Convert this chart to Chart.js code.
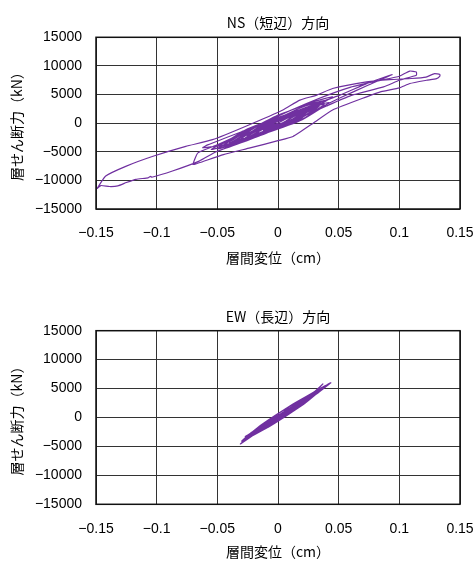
<!DOCTYPE html>
<html><head><meta charset="utf-8">
<script src="https://cdn.jsdelivr.net/npm/chart.js@4/dist/chart.umd.min.js"></script>
<style>
html,body{margin:0;padding:0;background:#fff;width:476px;height:561px;overflow:hidden}
canvas{display:block;position:absolute;left:0}
</style></head>
<body>
<canvas id="ns" width="476" height="280" style="top:0"></canvas>
<canvas id="ew" width="476" height="281" style="top:280px"></canvas>
<script>
const xTickValues = [-0.15, -0.1, -0.05, 0, 0.05, 0.1, 0.15];
const yTickValues = [-15000, -10000, -5000, 0, 5000, 10000, 15000];
const titleNS = 'NS（短辺）方向';
const titleEW = 'EW（長辺）方向';
const xTitle = '層間変位（cm）';
const yTitle = '層せん断力（kN）';

const nsDisp = [0, 0.008, 0.015, 0.006, -0.006, -0.012, -0.002, 0.010, 0.022, 0.010,
  -0.008, -0.020, -0.008, 0.012, 0.030, 0.015, -0.010, -0.028, -0.012, 0.015,
  0.036, 0.018, -0.015, -0.038, -0.020, 0.010, 0.051, 0.073, 0.094, 0.075,
  0.050, 0.025, 0.000, -0.025, -0.045, -0.030, -0.005, 0.020, 0.040, 0.022,
  -0.005, -0.030, -0.055, -0.040, -0.015, 0.010, 0.030, 0.045, 0.030, 0.005,
  -0.020, -0.050, -0.030, 0.000, 0.030, 0.060, 0.085, 0.100, 0.1086, 0.114,
  0.114, 0.100, 0.087, 0.060, 0.040, 0.018, 0.000, -0.025, -0.051, -0.065,
  -0.087, -0.104, -0.105, -0.107, -0.117, -0.125, -0.132, -0.139, -0.146, -0.149,
  -0.142, -0.125, -0.103, -0.076, -0.054, -0.025, 0.004, 0.018, 0.032, 0.045,
  0.073, 0.092, 0.110, 0.122, 0.129, 0.1334, 0.1334, 0.1307, 0.1224, 0.1087,
  0.100, 0.085, 0.073, 0.045, 0.029, 0.0124, 0.000, -0.023, -0.045, -0.065,
  -0.070, -0.066, -0.050, -0.025, 0.000, 0.025, 0.040, 0.025, 0.000, -0.020,
  -0.042, -0.025, 0.000, 0.020, 0.035, 0.018, -0.010, -0.030, -0.012, 0.010,
  0.028, 0.012, -0.008, -0.022, -0.008, 0.010, 0.020, 0.005, -0.010, 0.000,
  0.015, 0.032, 0.015, -0.010, -0.035, -0.015, 0.010, 0.038, 0.020, -0.010,
  -0.048, -0.025, 0.005, 0.033, 0.012, -0.015, -0.040, -0.018, 0.012, 0.042,
  0.020, -0.012, -0.040, -0.062, -0.058, -0.030, 0.000, 0.030, 0.010, -0.020,
  -0.036, -0.015, 0.015, 0.034, 0.012, -0.018, -0.045, -0.022, 0.008, 0.028,
  0.008, -0.015, -0.030, -0.010, 0.012, 0.025, 0.008, -0.012, -0.025, -0.008,
  0.010, 0.020, 0.005, -0.010, -0.018, -0.005, 0.012, 0.000, -0.012, 0.000];
const nsForce = [0, 900, 1500, 200, -800, -1300, 100, 1200, 2100, 500,
  -1100, -2000, -300, 1500, 3000, 900, -1500, -2700, -700, 1800,
  3500, 1200, -2000, -3600, -1300, 1700, 4900, 6900, 8480, 6700,
  4300, 1700, -800, -3000, -4200, -2300, 300, 2800, 4000, 1800,
  -1300, -3300, -4600, -2900, -200, 2200, 3800, 4600, 2700, -300,
  -2600, -4500, -2000, 1200, 4000, 6300, 7500, 8200, 9100, 8930,
  8360, 7490, 6330, 4800, 3000, 900, -900, -3000, -5000, -6640,
  -8370, -9450, -9300, -9550, -9810, -10380, -10970, -11070, -10900, -11400,
  -9240, -7500, -5780, -4050, -2890, -400, 2300, 4030, 4900, 6050,
  7200, 7610, 7800, 8050, 8650, 8500, 8200, 7785, 7490, 6920,
  6160, 5500, 4600, 2300, 0, -2320, -3060, -4330, -5500, -6920,
  -7210, -5190, -3800, -1300, 1400, 3300, 4000, 2200, -700, -2500,
  -3900, -2000, 700, 2400, 3400, 1300, -1800, -3200, -1000, 1400,
  2800, 700, -1300, -2300, -500, 1200, 2000, 200, -1200, 0,
  2000, 2900, 300, -1700, -3000, -300, 1700, 3300, 700, -1700,
  -4000, -1000, 1300, 3000, 0, -2100, -3400, -500, 1800, 3600,
  600, -1900, -3700, -4300, -3800, -1500, 900, 2900, -100, -2400,
  -3100, -300, 2000, 3000, 0, -2300, -3800, -800, 1500, 2600,
  -300, -2100, -2700, 100, 1800, 2300, -200, -1800, -2200, 200,
  1500, 1900, -300, -1500, -1700, 300, 1300, -600, -1200, 0];

const ewDisp = [0, 0.005, 0.010, 0.003, -0.004, -0.008, 0.000, 0.008, 0.015, 0.006,
  -0.006, -0.014, -0.004, 0.008, 0.020, 0.010, -0.005, -0.018, -0.006, 0.010,
  0.025, 0.012, -0.006, -0.022, -0.008, 0.012, 0.030, 0.015, -0.008, -0.027,
  -0.012, 0.010, 0.028, 0.037, 0.024, 0.005, -0.015, -0.031, -0.018, 0.000,
  0.020, 0.035, 0.0435, 0.030, 0.010, -0.010, -0.025, -0.012, 0.008, 0.026,
  0.014, -0.004, -0.020, -0.008, 0.008, 0.022, 0.010, -0.006, -0.016, -0.004,
  0.010, 0.018, 0.006, -0.008, 0.000,
  0.010, 0.030, 0.015, -0.005, -0.024, -0.010, 0.010, 0.034, 0.018, -0.005,
  -0.028, -0.012, 0.012, 0.038, 0.020, -0.004, -0.026, -0.010, 0.012, 0.032,
  0.016, -0.006, -0.030, -0.014, 0.010, 0.036, 0.018, -0.004, -0.022, -0.008,
  0.014, 0.040, 0.022, -0.002, -0.025, -0.010, 0.010, 0.028, 0.012, -0.008,
  -0.020, -0.006, 0.012, 0.024, 0.010, -0.006, -0.016, -0.004, 0.010, 0.018,
  0.006, -0.010, 0.000];
const ewForce = [0, 700, 1400, 200, -700, -1200, 100, 1200, 2100, 600,
  -1000, -2000, -400, 1300, 2800, 1100, -900, -2600, -700, 1600,
  3500, 1300, -1200, -3100, -900, 1900, 4300, 1600, -1500, -3320,
  -1300, 1700, 4100, 5800, 3100, 300, -2300, -4580, -2400, 200,
  3000, 5000, 6000, 3800, 1000, -1600, -3600, -1500, 1400, 3800,
  1700, -900, -2900, -1000, 1300, 3200, 1200, -1100, -2300, -300,
  1500, 2600, 600, -1300, 0,
  2000, 4100, 1500, -1300, -3300, -800, 2000, 4700, 1900, -1300,
  -3900, -1100, 2300, 5300, 2200, -1100, -3600, -800, 2200, 4400,
  1600, -1400, -4100, -1300, 2000, 5000, 1900, -1100, -3000, -500,
  2500, 5600, 2400, -900, -3400, -800, 2000, 3900, 1100, -1700,
  -2800, -200, 2200, 3300, 800, -1400, -2200, 0, 2000, 2500,
  200, -1000, 0];

const tickFont = {family: '"Liberation Sans", Arial, sans-serif', size: 14};
const jpFont = {family: '"Noto Sans CJK JP", sans-serif', size: 14};
const lineColor = '#7030A0';

function fmt(v) {
  return String(v).replace('-', '\u2212');
}

const framePlugin = {
  id: 'frame',
  afterDraw(chart) {
    const a = chart.chartArea, ctx = chart.ctx;
    ctx.save();
    ctx.strokeStyle = '#111';
    ctx.lineWidth = 1.5;
    ctx.strokeRect(a.left, a.top, a.right - a.left, a.bottom - a.top);
    ctx.restore();
  }
};

function makeChart(id, title, disp, force, lay) {
  const pts = disp.map((x, i) => ({x: x, y: force[i]}));
  return new Chart(document.getElementById(id), {
    type: 'scatter',
    data: {datasets: [{
      data: pts, showLine: true, borderColor: lineColor, borderWidth: 1.2,
      pointRadius: 0, pointHoverRadius: 0, tension: 0.15, fill: false
    }]},
    options: {
      responsive: false, animation: false, devicePixelRatio: 1,
      layout: {padding: {left: 0, right: 16, top: 0, bottom: lay.padBottom}},
      plugins: {
        legend: {display: false}, tooltip: {enabled: false},
        title: {display: true, fullSize: false, text: title, color: '#000',
          font: Object.assign({}, jpFont, {weight: 'normal'}),
          padding: {top: lay.titleTop, bottom: lay.titleBottom}}
      },
      scales: {
        x: {
          type: 'linear', min: -0.15, max: 0.15,
          afterBuildTicks: s => { s.ticks = xTickValues.map(v => ({value: v})); },
          afterFit: s => { s.height = lay.xHeight; s.paddingLeft = 0; s.paddingRight = 0; },
          grid: {color: '#333', lineWidth: 1, drawTicks: false},
          border: {display: false},
          ticks: {color: '#000', font: tickFont, padding: lay.xTickPad, maxRotation: 0, autoSkip: false,
            callback: v => fmt(v)},
          title: {display: true, text: xTitle, color: '#000', font: jpFont, padding: {top: 0, bottom: lay.xTitlePad}}
        },
        y: {
          type: 'linear', min: -15000, max: 15000,
          afterBuildTicks: s => { s.ticks = yTickValues.map(v => ({value: v})); },
          afterFit: s => { s.width = 96; },
          grid: {color: '#333', lineWidth: 1, drawTicks: false},
          border: {display: false},
          ticks: {color: '#000', font: tickFont, padding: 14, autoSkip: false, callback: v => fmt(v)},
          title: {display: true, text: yTitle, color: '#000', font: jpFont, padding: {top: 8.6, bottom: 0}}
        }
      }
    },
    plugins: [framePlugin]
  });
}

makeChart('ns', titleNS, nsDisp, nsForce,
  {padBottom: 11, titleTop: 14.6, titleBottom: 5.9, xHeight: 60, xTickPad: 16, xTitlePad: 2.6});
makeChart('ew', titleEW, ewDisp, ewForce,
  {padBottom: 0, titleTop: 28.3, titleBottom: 5.6, xHeight: 56.7, xTickPad: 16, xTitlePad: 0.9});
</script>
</body></html>
